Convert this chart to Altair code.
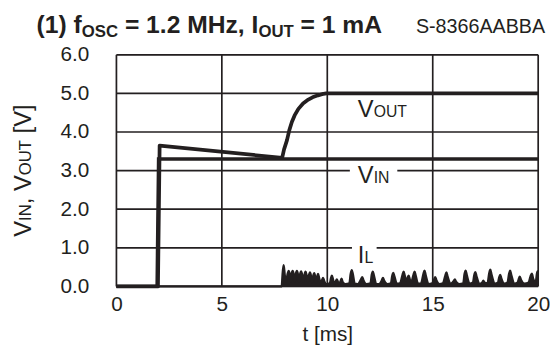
import altair as alt
import pandas as pd

FONT = "Liberation Sans"
INK = "#231f20"

# ---- data ----
vin_t = [0, 1.93, 2.0, 20.0]
vin_v = [0, 0, 3.3, 3.3]

vout_t = [0, 1.97, 2.05, 7.86, 7.95, 8.09, 8.20, 8.32, 8.45, 8.63, 8.85, 9.10, 9.30, 9.56, 9.75, 9.95, 20.0]
vout_v = [0, 0, 3.65, 3.33, 3.55, 3.79, 4.05, 4.26, 4.43, 4.60, 4.74, 4.84, 4.90, 4.95, 4.98, 5.0, 5.0]

il_t = [0, 7.84, 7.88, 7.93, 7.98, 8.05, 8.12, 8.17, 8.22, 8.27, 8.31, 8.36, 8.41, 8.46,
        8.51, 8.56, 8.61, 8.66, 8.71, 8.76, 8.81, 8.87, 8.92, 8.97, 9.02, 9.08, 9.13, 9.18,
        9.23, 9.28, 9.33, 9.38, 9.43, 9.47, 9.52, 9.56, 9.61, 9.68, 9.75, 9.80, 9.85, 9.95,
        10.12, 10.18, 10.22, 10.26, 10.33, 10.41, 10.45, 10.50, 10.58, 10.64, 10.68, 10.72,
        10.85, 11.05, 11.11, 11.16, 11.21, 11.30, 11.45, 11.60, 11.66, 11.71, 11.85, 12.05,
        12.11, 12.16, 12.21, 12.32, 12.45, 12.59, 12.64, 12.69, 12.85, 13.02, 13.08, 13.13,
        13.18, 13.30, 13.45, 13.57, 13.62, 13.67, 13.74, 13.81, 13.86, 13.91, 13.98, 14.09,
        14.14, 14.19, 14.30, 14.45, 14.56, 14.61, 14.66, 14.80, 14.95, 15.07, 15.12, 15.17,
        15.32, 15.48, 15.60, 15.65, 15.70, 15.85, 16.00, 16.05, 16.10, 16.25, 16.45, 16.51,
        16.56, 16.61, 16.75, 16.91, 16.97, 17.02, 17.07, 17.22, 17.35, 17.40, 17.45, 17.60,
        17.68, 17.73, 17.78, 17.95, 18.10, 18.15, 18.20, 18.25, 18.40, 18.55, 18.62, 18.67,
        18.72, 18.88, 19.03, 19.08, 19.13, 19.18, 19.35, 19.55, 19.64, 19.70, 19.76, 19.88,
        19.95, 20.0]
il_v = [0, 0, 0.30, 0.55, 0.30, 0.12, 0.32, 0.40, 0.30, 0.12, 0.32, 0.40, 0.30, 0.12,
        0.32, 0.40, 0.30, 0.12, 0.31, 0.39, 0.29, 0.12, 0.30, 0.38, 0.28, 0.12, 0.28, 0.36,
        0.26, 0.11, 0.26, 0.34, 0.24, 0.10, 0.24, 0.32, 0.22, 0.08, 0.16, 0.22, 0.14, 0.06,
        0.08, 0.22, 0.28, 0.20, 0.07, 0.14, 0.18, 0.12, 0.07, 0.15, 0.20, 0.12,
        0.06, 0.08, 0.32, 0.42, 0.32, 0.07, 0.06, 0.18, 0.24, 0.16, 0.06, 0.08,
        0.30, 0.38, 0.28, 0.06, 0.06, 0.16, 0.22, 0.15, 0.06, 0.08, 0.27, 0.35,
        0.26, 0.07, 0.08, 0.30, 0.38, 0.28, 0.15, 0.22, 0.28, 0.18, 0.10, 0.30,
        0.38, 0.28, 0.07, 0.08, 0.32, 0.41, 0.30, 0.06, 0.07, 0.18, 0.24, 0.16,
        0.06, 0.08, 0.28, 0.36, 0.26, 0.07, 0.14, 0.18, 0.12, 0.06, 0.08, 0.32,
        0.41, 0.30, 0.07, 0.10, 0.29, 0.37, 0.27, 0.06, 0.10, 0.15, 0.10, 0.08,
        0.34, 0.43, 0.32, 0.07, 0.10, 0.23, 0.30, 0.21, 0.07, 0.10, 0.32, 0.41,
        0.30, 0.07, 0.10, 0.19, 0.25, 0.17, 0.07, 0.10, 0.26, 0.33, 0.20, 0.10,
        0.35, 0.40]

x_ticks = [0, 5, 10, 15, 20]
y_ticks = [0, 1, 2, 3, 4, 5, 6]

# ---- layout ----
W, H = 428, 235
PAD_L, PAD_T = 110, 45
TICK_FS = 21
TITLE_FS, TITLE_SUB, TITLE_R = 25, 17, 20
LBL_FS, LBL_SUB = 24, 16
YT_FS, YT_SUB = 24, 17

AR = {' ': 278, '(': 333, ')': 333, ',': 278, '-': 333, '.': 278, '=': 584, '[': 278, ']': 278,
      'A': 667, 'B': 667, 'C': 722, 'H': 722, 'I': 278, 'L': 556, 'M': 833, 'N': 722, 'O': 778,
      'S': 667, 'T': 611, 'U': 722, 'V': 667, 'f': 278, 'm': 833, 's': 500, 't': 278, 'z': 500}
ARB = dict(AR, **{'f': 333, 'm': 889, 'A': 722})
for d in '0123456789':
    AR[d] = 556
    ARB[d] = 556


def tw(s, size, bold=False):
    tab = ARB if bold else AR
    return sum(tab.get(c, 556) for c in s) * size / 1000.0


one = pd.DataFrame({"a": [0]})


def piece(text, x, y, size, bold=False, angle=0, align="left"):
    return alt.Chart(one).mark_text(
        text=text, font=FONT, fontSize=size, fontWeight="bold" if bold else "normal",
        align=align, baseline="alphabetic", angle=angle, color=INK,
    ).encode(x=alt.value(x), y=alt.value(y))


xs = alt.Scale(domain=[0, 20], nice=False)
ys = alt.Scale(domain=[0, 6], nice=False)

xaxis = alt.Axis(values=x_ticks, title="t [ms]", grid=False, ticks=False, domain=False,
                 labelFontSize=TICK_FS, labelFont=FONT, labelColor=INK, labelPadding=7,
                 labelFlush=False, labelOverlap=False,
                 titleFont=FONT, titleFontSize=TICK_FS, titleFontWeight="normal",
                 titleColor=INK, titlePadding=10)
yaxis = alt.Axis(values=y_ticks, format=".1f", title=None, grid=False, ticks=False,
                 domain=False, labelFontSize=TICK_FS, labelFont=FONT, labelColor=INK,
                 labelPadding=28, labelFlush=False, labelOverlap=False)

df_vin = pd.DataFrame({"t": vin_t, "v": vin_v})
df_vout = pd.DataFrame({"t": vout_t, "v": vout_v})
df_il = pd.DataFrame({"t": il_t, "v": il_v})


def X(field="t"):
    return alt.X(f"{field}:Q", scale=xs, axis=xaxis)


def Y(field="v"):
    return alt.Y(f"{field}:Q", scale=ys, axis=yaxis)


# grid lines
grid_y = alt.Chart(pd.DataFrame({"v": y_ticks})).mark_rule(color=INK, strokeWidth=1.7).encode(y=Y())
grid_x = alt.Chart(pd.DataFrame({"t": x_ticks})).mark_rule(color=INK, strokeWidth=1.7).encode(x=X())

# white boxes that cut the grid lines behind the labels
box_df = pd.DataFrame({"t": [11.07, 11.17], "t2": [13.32, 12.34],
                       "v": [2.75, 0.6], "v2": [3.2, 1.2]})
boxes = alt.Chart(box_df).mark_rect(color="white").encode(
    x=X("t"), x2="t2:Q", y=Y("v"), y2="v2:Q")

il_area = alt.Chart(df_il).mark_area(color=INK, interpolate="monotone").encode(x=X(), y=Y())
il_line = alt.Chart(df_il).mark_line(color=INK, strokeWidth=2.4, interpolate="monotone").encode(
    x=X(), y=Y())
vin_line = alt.Chart(df_vin).mark_line(color=INK, strokeWidth=3.5).encode(x=X(), y=Y())
vout_line = alt.Chart(df_vout).mark_line(color=INK, strokeWidth=3.8, strokeJoin="round").encode(
    x=X(), y=Y())

# in-plot series labels (main letter + small caps suffix on the same baseline)
lab_main = ["V", "V", "I"]
lab_sub = ["OUT", "IN", "L"]
lab_t = [11.45, 11.45, 11.45]
lab_v = [4.4, 2.68, 0.6]
lab_df = pd.DataFrame({"t": lab_t, "v": lab_v, "m": lab_main, "s": lab_sub,
                       "dx": [tw(m, LBL_FS) for m in lab_main]})
lab_a = alt.Chart(lab_df).mark_text(font=FONT, fontSize=LBL_FS, align="left",
                                    baseline="alphabetic", color=INK).encode(
    x=X(), y=Y(), text="m:N")
lab_b_layers = [
    alt.Chart(lab_df.iloc[[i]]).mark_text(font=FONT, fontSize=LBL_SUB, align="left",
                                          baseline="alphabetic", color=INK,
                                          dx=float(lab_df.dx[i])).encode(x=X(), y=Y(), text="s:N")
    for i in range(len(lab_df))
]

# title pieces (pixel positions relative to plot origin); leading spaces advance x only
title_layers = []
tx = 37 - 8 - PAD_L
ty = 30.8 - 8 - PAD_T
for txt, sub in [("(1) f", False), ("OSC", True), (" = 1.2 MHz, I", False), ("OUT", True), (" = 1 mA", False)]:
    fs = TITLE_SUB if sub else TITLE_FS
    lead = len(txt) - len(txt.lstrip(" "))
    x0 = tx + tw(" " * lead, fs, True)
    title_layers.append(piece(txt.lstrip(" "), x0, ty + (4 if sub else 0), fs, bold=True))
    tx += tw(txt, fs, True)
title_layers.append(piece("S-8366AABBA", 553 - 8 - PAD_L, ty, TITLE_R, align="right"))

# rotated y-axis title pieces
yt_layers = []
ypieces = [("V", YT_FS), ("IN", YT_SUB), (", V", YT_FS), ("OUT", YT_SUB), (" [V]", YT_FS)]
total = sum(tw(s, f) for s, f in ypieces)
yy = H / 2 + total / 2
bx = 31 - 8 - PAD_L
for s, f in ypieces:
    lead = len(s) - len(s.lstrip(" "))
    yt_layers.append(piece(s.lstrip(" "), bx, yy - tw(" " * lead, f), f, angle=270))
    yy -= tw(s, f)

chart = alt.layer(
    grid_y, grid_x, boxes, il_area, il_line, vin_line, vout_line,
    lab_a, *lab_b_layers, *title_layers, *yt_layers
).properties(
    width=W, height=H,
    autosize=alt.AutoSizeParams(type="none"),
    padding={"left": PAD_L, "top": PAD_T, "right": 550 - PAD_L - W, "bottom": 60},
).configure_view(stroke="black", strokeWidth=3).configure(background="white")

chart.save("out.html", embed_options={"renderer": "svg", "actions": False})
